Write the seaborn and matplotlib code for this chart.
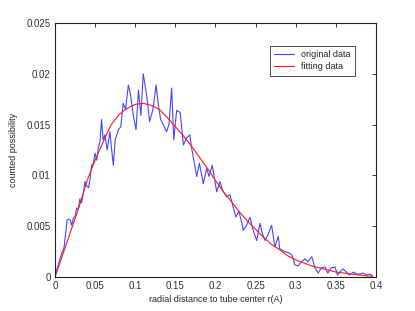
import matplotlib
matplotlib.use("Agg")
import matplotlib.pyplot as plt
import seaborn as sns
import pandas as pd

# original (noisy) distribution
orig_r = [0.000, 0.002, 0.004, 0.006, 0.008, 0.010, 0.0115, 0.0125, 0.0137, 0.015,
          0.017, 0.019, 0.0208, 0.0228, 0.025, 0.027, 0.029, 0.031, 0.033, 0.0353,
          0.0374, 0.040, 0.042, 0.0436, 0.0457, 0.0478, 0.050, 0.052, 0.054, 0.056,
          0.058, 0.060, 0.0623, 0.065, 0.0685, 0.070, 0.0727, 0.075, 0.079, 0.082,
          0.085, 0.088, 0.0914, 0.094, 0.0976, 0.101, 0.104, 0.107, 0.110, 0.114,
          0.118, 0.122, 0.126, 0.129, 0.1317, 0.135, 0.139, 0.142, 0.1454, 0.148,
          0.1516, 0.156, 0.160, 0.164, 0.168, 0.170, 0.1723, 0.1766, 0.180, 0.1848,
          0.189, 0.192, 0.196, 0.2015, 0.2056, 0.209, 0.214, 0.218, 0.222, 0.2255,
          0.229, 0.2326, 0.2347, 0.238, 0.243, 0.245, 0.247, 0.2513, 0.2555, 0.258,
          0.2617, 0.265, 0.270, 0.272, 0.274, 0.2783, 0.280, 0.2866, 0.291, 0.295,
          0.299, 0.303, 0.307, 0.3116, 0.315, 0.320, 0.324, 0.328, 0.332, 0.3365,
          0.340, 0.344, 0.349, 0.352, 0.355, 0.359, 0.363, 0.367, 0.372, 0.376,
          0.380, 0.384, 0.388, 0.392, 0.396]
orig_p = [0.0000, 0.0007, 0.0012, 0.0017, 0.0023, 0.0026, 0.0030, 0.0038, 0.0045, 0.0056,
          0.0057, 0.0056, 0.0051, 0.0058, 0.0060, 0.0068, 0.0067, 0.0077, 0.0073, 0.0082,
          0.0094, 0.0089, 0.0088, 0.0096, 0.0110, 0.0112, 0.0122, 0.0115, 0.0127, 0.0133,
          0.0155, 0.0135, 0.0140, 0.0125, 0.0143, 0.0130, 0.0110, 0.0135, 0.0145, 0.0148,
          0.0171, 0.0165, 0.0189, 0.0180, 0.0159, 0.0145, 0.0184, 0.0159, 0.0200, 0.0180,
          0.0153, 0.0165, 0.0189, 0.0168, 0.0155, 0.0150, 0.0143, 0.0150, 0.0186, 0.0135,
          0.0164, 0.0162, 0.0130, 0.0137, 0.0140, 0.0128, 0.0118, 0.0099, 0.0112, 0.0092,
          0.0107, 0.0099, 0.0110, 0.0084, 0.0094, 0.0085, 0.0079, 0.0081, 0.0069, 0.0059,
          0.0065, 0.0054, 0.0046, 0.0050, 0.0059, 0.0052, 0.0046, 0.0036, 0.0053, 0.0044,
          0.0036, 0.0041, 0.0051, 0.0040, 0.0030, 0.0040, 0.0028, 0.0025, 0.0024, 0.0022,
          0.0012, 0.0011, 0.0015, 0.0018, 0.0015, 0.0020, 0.0009, 0.0004, 0.0009, 0.0010,
          0.0004, 0.0009, 0.0010, 0.0002, 0.0005, 0.0008, 0.0005, 0.0002, 0.0005, 0.0003,
          0.0003, 0.0004, 0.0002, 0.0003, 0.0001]

# fitted curve
fit_r = [0.00, 0.01, 0.02, 0.03, 0.04, 0.05, 0.06, 0.07, 0.08, 0.09, 0.10,
         0.11, 0.12, 0.13, 0.14, 0.15, 0.16, 0.17, 0.18, 0.19, 0.20,
         0.21, 0.22, 0.23, 0.24, 0.25, 0.26, 0.27, 0.28, 0.29, 0.30,
         0.31, 0.32, 0.33, 0.34, 0.35, 0.36, 0.37, 0.38, 0.39, 0.396]
fit_p = [0.0000, 0.0023, 0.0046, 0.0069, 0.0095, 0.0115, 0.0133, 0.0150, 0.0160, 0.0166, 0.0170,
         0.0171, 0.0169, 0.0165, 0.0157, 0.0148, 0.0139, 0.0129, 0.0118, 0.0107, 0.0095,
         0.0084, 0.0074, 0.0064, 0.0055, 0.0047, 0.0039, 0.0032, 0.0027, 0.0021, 0.0017,
         0.0014, 0.0011, 0.0009, 0.0007, 0.0005, 0.0004, 0.0003, 0.0002, 0.0001, 0.0001]

x_ticks = [0, 0.05, 0.1, 0.15, 0.2, 0.25, 0.3, 0.35, 0.4]
x_tick_labels = ["0", "0.05", "0.1", "0.15", "0.2", "0.25", "0.3", "0.35", "0.4"]
y_ticks = [0, 0.005, 0.01, 0.015, 0.02, 0.025]
y_tick_labels = ["0", "0.005", "0.01", "0.015", "0.02", "0.025"]

sns.set_style("white")
plt.rcParams['font.family'] = ['Liberation Sans', 'DejaVu Sans']
plt.rcParams['font.size'] = 7

orig_df = pd.DataFrame({'r': orig_r, 'p': orig_p})
fit_df = pd.DataFrame({'r': fit_r, 'p': fit_p})

fig = plt.figure(figsize=(4.15, 3.11), dpi=100)
ax = fig.add_axes([0.1325, 0.109, 0.7735, 0.817])

sns.lineplot(data=orig_df, x='r', y='p', ax=ax, color='#4646ff', linewidth=0.8,
             estimator=None, sort=False, label='original data')
sns.lineplot(data=fit_df, x='r', y='p', ax=ax, color='#ff1a1a', linewidth=0.8,
             estimator=None, sort=False, label='fitting data')

ax.set_xlim(0, 0.4)
ax.set_ylim(0, 0.025)
ax.set_xticks(x_ticks)
ax.set_xticklabels(x_tick_labels)
ax.set_yticks(y_ticks)
ax.set_yticklabels(y_tick_labels)
ax.tick_params(direction='in', length=3, width=0.7, top=True, right=True,
               labelsize=7, colors='#333333', pad=3)
for s in ax.spines.values():
    s.set_linewidth(0.8)
    s.set_color('#222222')

ax.set_xlabel("radial distance to tube center r(A)", fontsize=6.5, labelpad=3)
ax.set_ylabel("counted possibility", fontsize=6.5, labelpad=6)

leg = ax.legend(loc='upper right', bbox_to_anchor=(0.95, 0.928), fontsize=6.5,
                frameon=True, fancybox=False, edgecolor='#222222',
                handlelength=2.2, borderpad=0.5, labelspacing=0.3)
leg.get_frame().set_linewidth(0.7)

plt.savefig("out.png", dpi=100)
plt.close()
